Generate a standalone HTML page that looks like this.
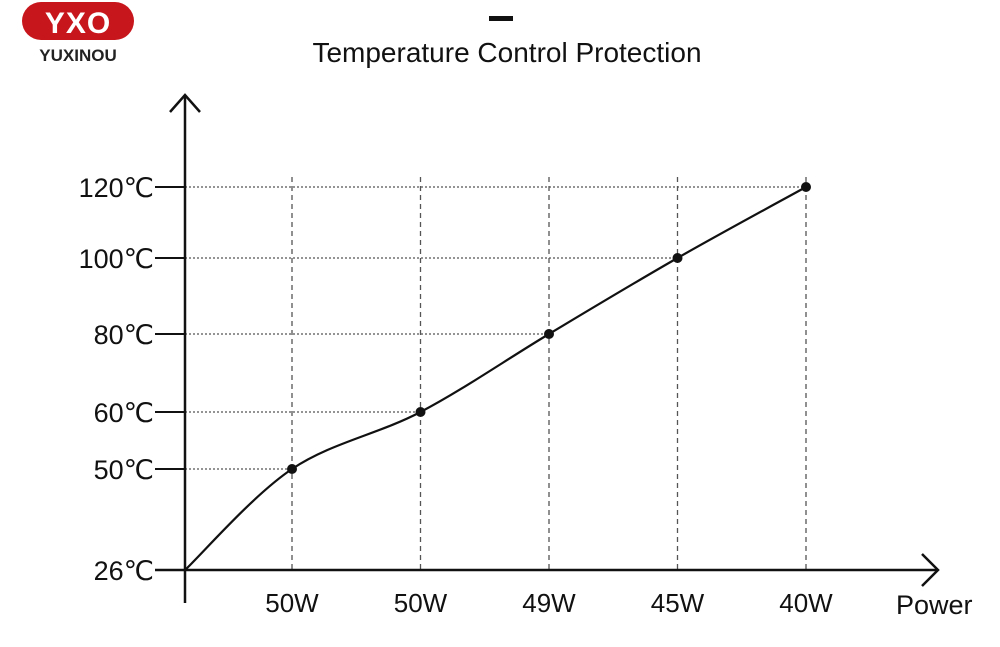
<!DOCTYPE html>
<html><head><meta charset="utf-8"><style>
body{margin:0;background:#fff;width:1000px;height:642px;overflow:hidden;font-family:"Liberation Sans","DejaVu Sans",sans-serif}
</style></head><body>
<svg width="1000" height="642" viewBox="0 0 1000 642">
<g>
<rect x="22" y="2" width="112" height="38" rx="19" fill="#c8161d"/>
<text x="78" y="33" font-size="30" font-weight="bold" fill="#fff" text-anchor="middle" font-family="Liberation Sans, sans-serif" letter-spacing="1">YXO</text>
<text x="78" y="61" font-size="17" font-weight="bold" fill="#222" text-anchor="middle">YUXINOU</text>
</g>
<rect x="489" y="16" width="24" height="5" fill="#111"/>
<text x="507" y="62" font-size="28" text-anchor="middle" fill="#111">Temperature Control Protection</text>
<g id="grid"></g>
<g id="axes" stroke="#111" stroke-width="2.5" fill="none">
<line x1="185" y1="95" x2="185" y2="603"/>
<polyline points="170,112 185,95 200,112"/>
<line x1="155" y1="570" x2="938" y2="570"/>
<polyline points="922,554 938,570 922,586"/>
</g>
<g id="ylabels"></g><g id="xlabels"></g>
<path id="curve" fill="none" stroke="#111" stroke-width="2.2"/>
<g id="points"></g>
<text x="896" y="614" font-size="27" fill="#111">Power</text>
</svg>
<script>
const categories = ["50W","50W","49W","45W","40W"];
const temps = [50,60,80,100,120];
const yTicks = [26,50,60,80,100,120];
const yTickLabels = ["26℃","50℃","60℃","80℃","100℃","120℃"];
const startTemp = 26;
const yAnchorPx = [570,469,412,334,258,187];
function y(v){
  for(let i=0;i<yTicks.length-1;i++){
    const a=yTicks[i],b=yTicks[i+1];
    if(v<=b||i===yTicks.length-2){return yAnchorPx[i]+(v-a)/(b-a)*(yAnchorPx[i+1]-yAnchorPx[i]);}
  }
}
function x(i){return 292+128.5*i;}
const NS="http://www.w3.org/2000/svg";
function mk(t,a,p){const e=document.createElementNS(NS,t);for(const k in a)e.setAttribute(k,a[k]);p.appendChild(e);return e;}
const grid=document.getElementById('grid'),yl=document.getElementById('ylabels'),xl=document.getElementById('xlabels'),pts=document.getElementById('points');
yTicks.forEach((v,i)=>{
  const t=mk('line',{x1:155,x2:185,y1:y(v),y2:y(v),stroke:'#111','stroke-width':2},yl);
  
  
  const l=mk('text',{x:154,y:y(v)+10,'font-size':27,'text-anchor':'end',fill:'#111'},yl);
  l.textContent=yTickLabels[i];
  
  
});
categories.forEach((c,i)=>{
  const v=mk('line',{x1:x(i),x2:x(i),y1:177,y2:570,stroke:'#555','stroke-width':1.3,'stroke-dasharray':'5,4'},grid);
  
  
  const h=mk('line',{x1:185,x2:x(i),y1:y(temps[i]),y2:y(temps[i]),stroke:'#555','stroke-width':1.3,'stroke-dasharray':'2,2'},grid);
  
  
  const l=mk('text',{x:x(i),y:612,'font-size':26,'text-anchor':'middle',fill:'#111'},xl);
  l.textContent=c;
  
  
  const d=mk('circle',{cx:x(i),cy:y(temps[i]),r:5,fill:'#111'},pts);
  
  
});
const P=[[185,y(startTemp)]].concat(temps.map((t,i)=>[x(i),y(t)]));
let d='M'+P[0][0]+','+P[0][1];
for(let i=0;i<P.length-1;i++){
  const p0=P[Math.max(i-1,0)],p1=P[i],p2=P[i+1],p3=P[Math.min(i+2,P.length-1)];
  const c1=[p1[0]+(p2[0]-p0[0])/6,p1[1]+(p2[1]-p0[1])/6],c2=[p2[0]-(p3[0]-p1[0])/6,p2[1]-(p3[1]-p1[1])/6];
  d+=` C${c1[0]},${c1[1]} ${c2[0]},${c2[1]} ${p2[0]},${p2[1]}`;
}
document.getElementById('curve').setAttribute('d',d);
</script>
</body></html>
